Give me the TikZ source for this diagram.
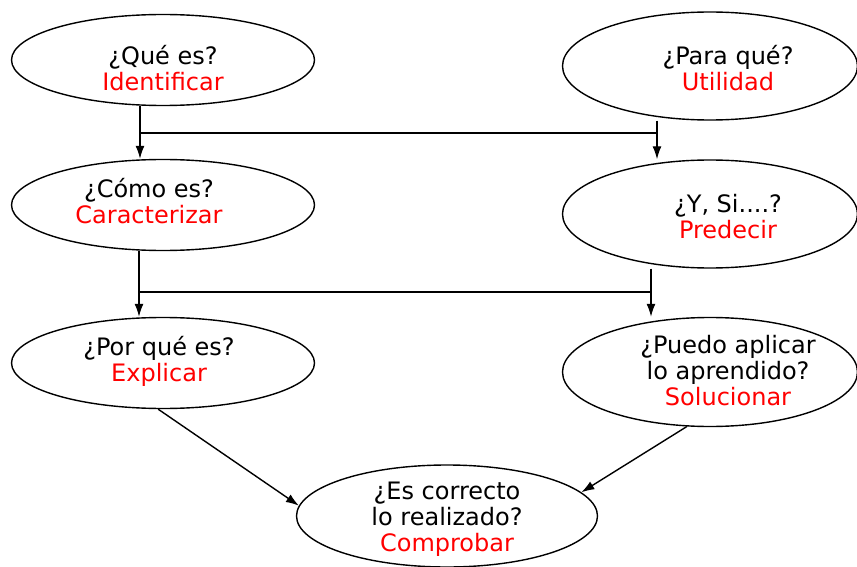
\documentclass[tikz,border=0pt]{standalone}
\usepackage{fontspec}
\setmainfont{DejaVu Sans}
\usetikzlibrary{shapes.geometric,arrows.meta}

% pregunta en negro y accion en rojo (#1 desplaza en x, #2 en y)
\newcommand{\preg}[4]{\raisebox{#2}[0pt][0pt]{\makebox[0pt]{\hspace*{#1}\begin{tabular}{@{}c@{}}#3\\\textcolor{red}{#4}\end{tabular}}}}

\begin{document}
\begin{tikzpicture}[x=0.5pt, y=-0.5pt, >={Latex[length=6.5pt,width=4.5pt]},
    paso/.style={ellipse, draw, line width=0.7pt, inner sep=0pt, font=\fontsize{12}{13}\selectfont},
    izq/.style={paso, minimum width=151.5pt, minimum height=45.5pt},
    der/.style={paso, minimum width=147.5pt, minimum height=54pt},
    linea/.style={line width=0.7pt}]
    \useasboundingbox (0,0) rectangle (857,567);
    % Nodos
    \node[izq] (que) at (163,60) {\preg{0pt}{-9pt}{¿Qué es?}{Identificar}};
    \node[der] (para) at (710,66) {\preg{18pt}{-6pt}{¿Para qué?}{Utilidad}};
    \node[izq] (como) at (163,205) {\preg{-14pt}{-3pt}{¿Cómo es?}{Caracterizar}};
    \node[der] (ysi) at (710,214) {\preg{18pt}{-6pt}{¿Y, Si....?}{Predecir}};
    \node[izq] (porque) at (163,363) {\preg{-4pt}{-3pt}{¿Por qué es?}{Explicar}};
    \node[der, minimum height=54.5pt] (puedo) at (710,372) {\preg{18pt}{-4pt}{¿Puedo aplicar\\lo aprendido?}{Solucionar}};
    \node[paso, minimum width=150.5pt, minimum height=51pt] (correcto) at (447,516) {\preg{0pt}{-5pt}{¿Es correcto\\lo realizado?}{Comprobar}};
    % Uniones
    \coordinate (j1) at (140,133);
    \coordinate (j2) at (657,133);
    \coordinate (j3) at (139,292);
    \coordinate (j4) at (651,292);
    % Aristas
    \draw[linea,->] (que.south -| j1) -- (como.north -| j1);
    \draw[linea,->] (para.south -| j2) -- (ysi.north -| j2);
    \draw[linea] (j1) -- (j2);
    \draw[linea,->] (como.south -| j3) -- (porque.north -| j3);
    \draw[linea,->] (ysi.south -| j4) -- (puedo.north -| j4);
    \draw[linea] (j3) -- (j4);
    \draw[linea,->] (porque.264) -- (correcto.176);
    \draw[linea,->] (puedo.247) -- (correcto.10);
\end{tikzpicture}
\end{document}
